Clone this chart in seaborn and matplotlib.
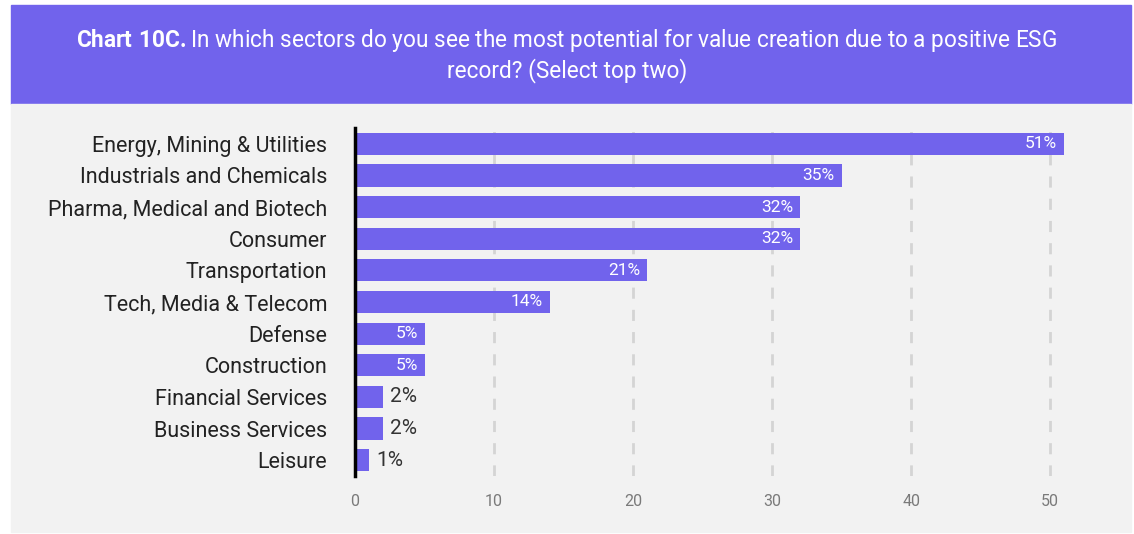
import matplotlib
matplotlib.use("Agg")
import matplotlib.pyplot as plt
import seaborn as sns
import pandas as pd
from matplotlib.patches import Rectangle

sectors = [
    "Energy, Mining & Utilities",
    "Industrials and Chemicals",
    "Pharma, Medical and Biotech",
    "Consumer",
    "Transportation",
    "Tech, Media & Telecom",
    "Defense",
    "Construction",
    "Financial Services",
    "Business Services",
    "Leisure",
]
shares = [51, 35, 32, 32, 21, 14, 5, 5, 2, 2, 1]
x_ticks = [0, 10, 20, 30, 40, 50]

df = pd.DataFrame({"sector": sectors, "share": shares})

PURPLE = "#7163EC"
PANEL = "#F2F2F2"

sns.set_theme(style="white")
plt.rcParams["font.family"] = ["Roboto", "DejaVu Sans"]
plt.rcParams["mathtext.fontset"] = "custom"
plt.rcParams["mathtext.rm"] = "Roboto"
plt.rcParams["mathtext.bf"] = "Roboto:bold"

fig = plt.figure(figsize=(11.34, 5.34), dpi=100)
fig.patch.set_facecolor("white")

W, H = 1134, 534
# header banner and grey panel
fig.patches.append(Rectangle((11 / W, 1 - 104 / H), 1120 / W, 99 / H,
                             transform=fig.transFigure, color=PURPLE, zorder=-2))
fig.patches.append(Rectangle((11 / W, 1 - 532 / H), 1120 / W, 428 / H,
                             transform=fig.transFigure, color=PANEL, zorder=-2))

fig.text(0.5, 1 - 41 / H,
         r"$\bf{Chart\ 10C.}$In which sectors do you see the most potential for value creation due to a positive ESG",
         ha="center", va="center", color="white", fontsize=16.3)
fig.text(0.5, 1 - 71 / H, "record? (Select top two)",
         ha="center", va="center", color="white", fontsize=16.3)

ax = fig.add_axes([355 / W, 1 - 476 / H, 737 / W, 348 / H])
ax.set_facecolor("none")
ax.set_zorder(2)

sns.barplot(data=df, x="share", y="sector", orient="h", color=PURPLE,
            width=0.7, saturation=1, linewidth=0, ax=ax, zorder=3)

ax.set_xlim(0, 53)
ax.set_ylim(10.5, -0.5)
ax.set_xticks(x_ticks)
ax.set_xticklabels([str(t) for t in x_ticks], color="#7a7a7a", fontsize=11.5)
ax.tick_params(axis="x", length=0, pad=13)
ax.tick_params(axis="y", length=0, pad=20, labelsize=15.5, labelcolor="#222222")
ax.set_xlabel("")
ax.set_ylabel("")

for t in x_ticks[1:]:
    ax.axvline(t, color="#d4d4d4", lw=2, ls=(0, (4, 4)), zorder=1)

for s in ["top", "right", "bottom"]:
    ax.spines[s].set_visible(False)
ax.spines["left"].set_color("black")
ax.spines["left"].set_linewidth(2.5)
ax.spines["left"].set_zorder(5)

for i, v in enumerate(shares):
    if v >= 5:
        ax.annotate(f"{v}%", (v, i), xytext=(-5, 0), textcoords="offset points",
                    ha="right", va="center", color="white", fontsize=12.5)
    else:
        ax.annotate(f"{v}%", (v, i), xytext=(5, 0), textcoords="offset points",
                    ha="left", va="center", color="#333333", fontsize=15)

fig.savefig("out.png", dpi=100, facecolor="white")
